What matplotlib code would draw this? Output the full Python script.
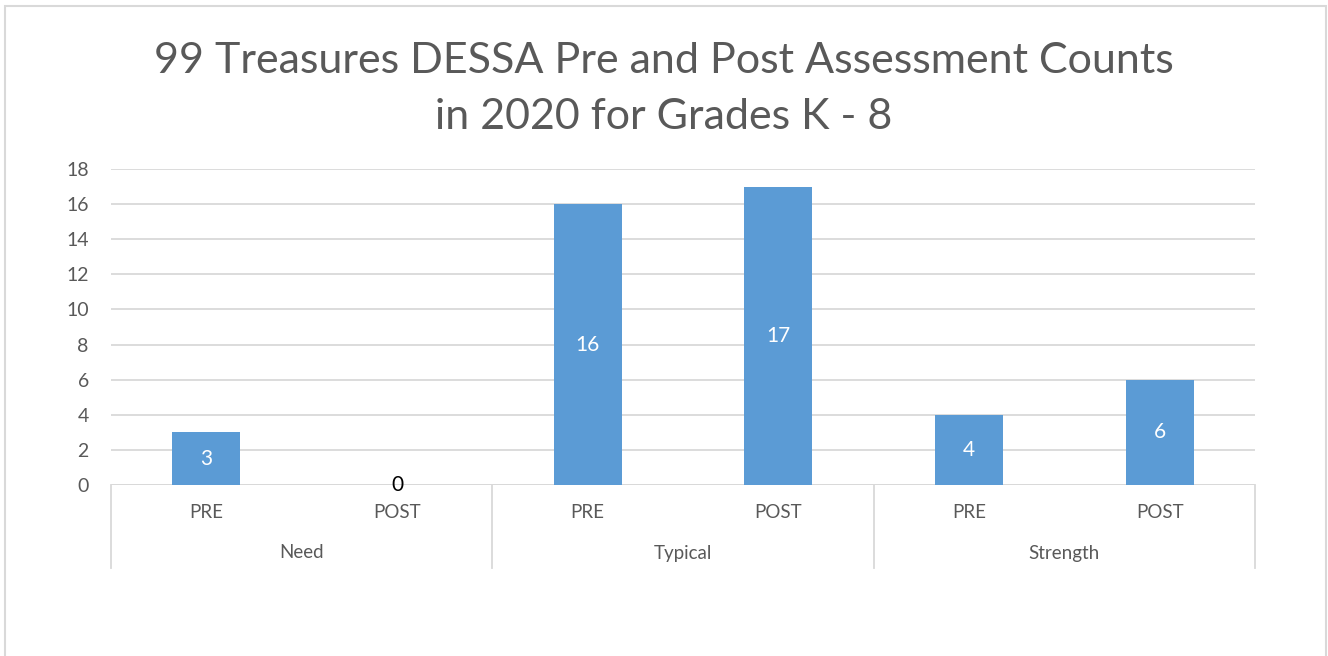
import matplotlib
matplotlib.use("Agg")
import matplotlib.pyplot as plt
from matplotlib.patches import Rectangle
from matplotlib.transforms import blended_transform_factory

title = "99 Treasures DESSA Pre and Post Assessment Counts\nin 2020 for Grades K - 8"
groups = ["Need", "Typical", "Strength"]
phases = ["PRE", "POST"]
values = [3, 0, 16, 17, 4, 6]
yticks = [0, 2, 4, 6, 8, 10, 12, 14, 16, 18]

FONT = "Lato"
TXT = "#595959"
BAR = "#5B9BD5"
GRID = "#D9D9D9"

W, H = 1328, 656
fig = plt.figure(figsize=(W / 100, H / 100), dpi=100)
fig.patch.set_facecolor("white")

# chart border
fig.add_artist(Rectangle((5 / W, -0.1), (1326 - 5) / W, 1.1 - 6 / H,
                         transform=fig.transFigure, fill=False,
                         edgecolor="#D9D9D9", linewidth=1.5))

ax = fig.add_axes([111 / W, 1 - 485 / H, (1255 - 111) / W, (485 - 169) / H])
n = len(values)
x = list(range(n))
ax.bar(x, values, width=0.357, color=BAR, zorder=3)

ax.set_xlim(-0.5, n - 0.5)
ax.set_ylim(0, 18)
ax.set_yticks(yticks)
ax.set_yticklabels([str(t) for t in yticks], fontsize=14, color=TXT, family=FONT)
ax.tick_params(axis="y", length=0, pad=16)
ax.set_xticks([])
for s in ax.spines.values():
    s.set_visible(False)
ax.yaxis.grid(True, color=GRID, linewidth=1.3, zorder=0)
ax.set_axisbelow(True)
ax.axhline(0, color=GRID, linewidth=1.3, zorder=2)

# data labels
for xi, v in zip(x, values):
    if v > 0:
        ax.text(xi, v / 2, str(v), ha="center", va="center", color="white",
                fontsize=15, family=FONT, zorder=4)
    else:
        ax.text(xi, v, str(v), ha="center", va="center", color="black",
                fontsize=15, family=FONT, zorder=4)

# multi-level category axis
tr = blended_transform_factory(ax.transData, ax.transAxes)
labels_phase = [p for g in groups for p in phases]
for xi, lab in zip(x, labels_phase):
    ax.text(xi, -28 / 316, lab, transform=tr, ha="center", va="center",
            fontsize=13.5, color=TXT, family=FONT)
for gi, g in enumerate(groups):
    ax.text(gi * 2 + 0.5, -68 / 316, g, transform=tr, ha="center", va="center",
            fontsize=13.5, color=TXT, family=FONT)
for b in [-0.5, 1.5, 3.5, 5.5]:
    ax.plot([b, b], [0, -83 / 316], transform=tr, color=GRID, linewidth=1.3,
            clip_on=False)

fig.text(0.5, 1 - 89 / H, title, ha="center", va="center", fontsize=31,
         color=TXT, family=FONT, linespacing=1.55)

fig.savefig("out.png", dpi=100)
